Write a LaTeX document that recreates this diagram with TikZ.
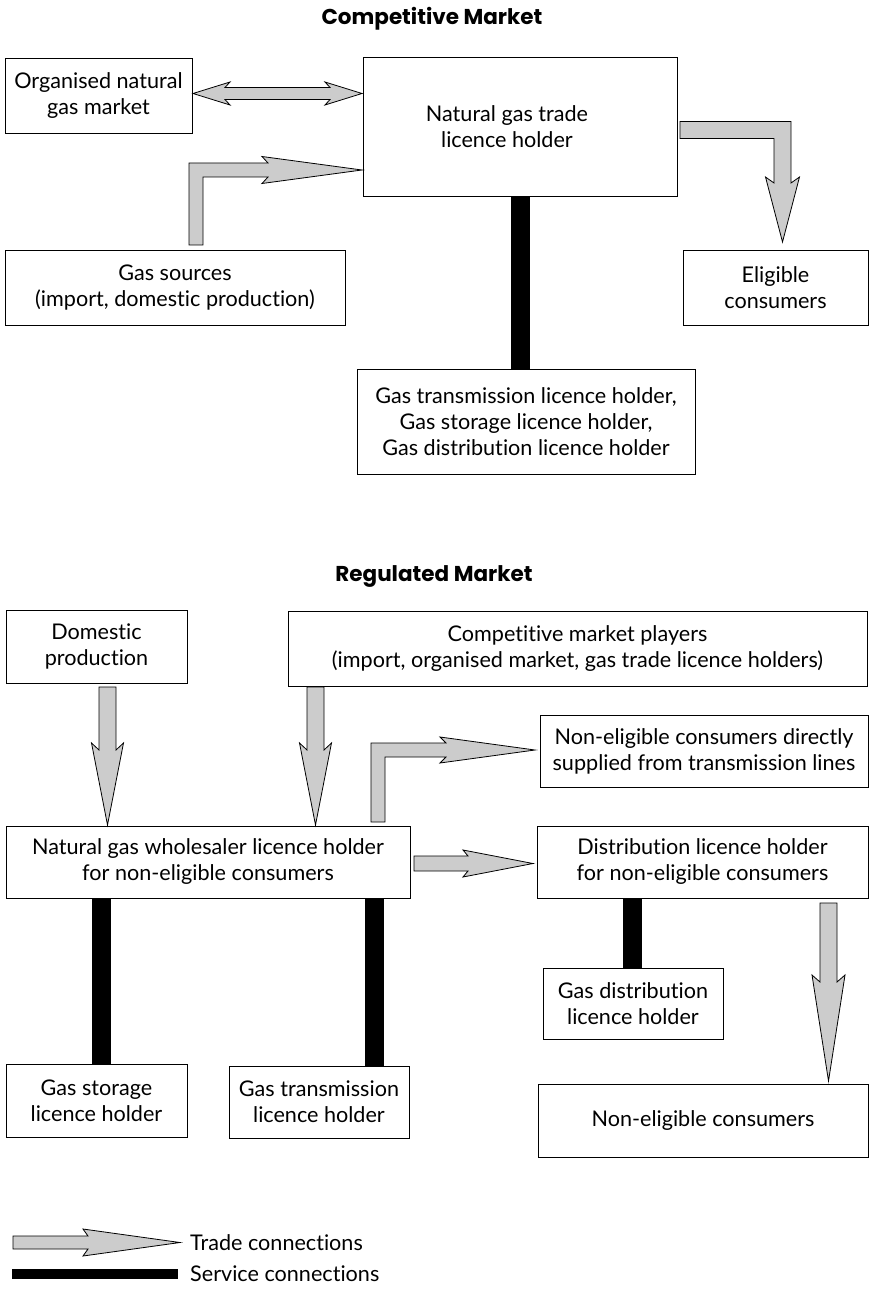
\documentclass[tikz,border=0pt]{standalone}
\usepackage{fontspec}
\setmainfont{Lato}[Ligatures={NoCommon}]
\newfontfamily\titlefont{Poppins}
\usetikzlibrary{calc}
\definecolor{arrowgray}{RGB}{204,204,204}
\tikzset{
  box/.style={draw, line width=0.9pt, inner sep=0pt, align=center,
    font=\fontsize{21.6}{26}\selectfont},
  trade/.style={fill=arrowgray, draw=black, line width=0.8pt, line join=miter},
  service/.style={draw=black, line width=19pt},
  title/.style={font=\titlefont\bfseries\fontsize{21.5}{25}\selectfont},
  legendtext/.style={anchor=west, inner sep=0pt, font=\fontsize{21.6}{24}\selectfont}
}
% right-pointing block arrow: x0 x1 y s h L b
\newcommand\rblock[7]{%
  \filldraw[trade] (#1,#3-#4) -- (#2-#6,#3-#4) -- (#2-#6-#7,#3-#5) -- (#2,#3)
    -- (#2-#6-#7,#3+#5) -- (#2-#6,#3+#4) -- (#1,#3+#4) -- cycle;}
% down-pointing block arrow: x y0 y1 s h L b
\newcommand\dblock[7]{%
  \filldraw[trade] (#1-#4,#2) -- (#1-#4,#3-#6) -- (#1-#5,#3-#6-#7) -- (#1,#3)
    -- (#1+#5,#3-#6-#7) -- (#1+#4,#3-#6) -- (#1+#4,#2) -- cycle;}
% up-then-right block arrow: x y0 yc tip s h L b
\newcommand\urblock[8]{%
  \filldraw[trade] (#1-#5,#2) -- (#1-#5,#3-#5) -- (#4-#7,#3-#5) -- (#4-#7-#8,#3-#6)
    -- (#4,#3) -- (#4-#7-#8,#3+#6) -- (#4-#7,#3+#5) -- (#1+#5,#3+#5) -- (#1+#5,#2) -- cycle;}
% right-then-down block arrow: x0 yc xc tip s h L b
\newcommand\rdblock[8]{%
  \filldraw[trade] (#1,#2-#5) -- (#3+#5,#2-#5) -- (#3+#5,#4-#7) -- (#3+#6,#4-#7-#8)
    -- (#3,#4) -- (#3-#6,#4-#7-#8) -- (#3-#5,#4-#7) -- (#3-#5,#2+#5) -- (#1,#2+#5) -- cycle;}
\begin{document}
\begin{tikzpicture}[x=1pt,y=-1pt]
\useasboundingbox (0,0) rectangle (870,1289);

% ---------------- Competitive market ----------------
\node[title] (t1) at (432,19) {Competitive Market};

\node[box, minimum width=187pt, minimum height=75pt] (org) at (98.5,95.5)
  {Organised natural\\gas market};
\node[box, minimum width=314pt, minimum height=139pt] (trade) at (520,126.5)
  {Natural gas trade\hspace*{26pt}\\licence holder\hspace*{26pt}};
\node[box, minimum width=340pt, minimum height=75pt] (sources) at (175,287.5)
  {Gas sources\\(import, domestic production)};
\node[box, minimum width=185pt, minimum height=75pt] (elig) at (775.5,287.5)
  {Eligible\\consumers};
\node[box, minimum width=338pt, minimum height=105pt] (trans1) at (526,421.5)
  {Gas transmission licence holder,\\Gas storage licence holder,\\Gas distribution licence holder};

% double arrow org <-> trade
\filldraw[trade] (193,93.5) -- (230,82) -- (225,87.5) -- (330,87.5) -- (325,82) -- (362,93.5)
  -- (325,105) -- (330,99.5) -- (225,99.5) -- (230,105) -- cycle;
% sources -> trade
\urblock{196}{245}{170}{362}{7}{13.5}{94}{6}
% trade -> eligible
\rdblock{680}{130}{782.5}{242}{8.5}{17}{59}{6}
% service
\draw[service] (trade.south) -- (trade.south |- trans1.north);

% ---------------- Regulated market ----------------
\node[title] (t2) at (434,576) {Regulated Market};

\node[box, minimum width=181pt, minimum height=73pt] (dom) at (96.5,646.5)
  {Domestic\\production};
\node[box, minimum width=579pt, minimum height=75pt] (comp) at (577.5,648.5)
  {Competitive market players\\(import, organised market, gas trade licence holders)};
\node[box, minimum width=328pt, minimum height=72pt] (nedir) at (704,751)
  {Non-eligible consumers directly\\supplied from transmission lines};
\node[box, minimum width=404pt, minimum height=72pt] (whole) at (208,862)
  {Natural gas wholesaler licence holder\\for non-eligible consumers};
\node[box, minimum width=331pt, minimum height=72pt] (dist) at (702.5,862)
  {Distribution licence holder\\for non-eligible consumers};
\node[box, minimum width=180pt, minimum height=71pt] (gdist) at (633,1003.5)
  {Gas distribution\\licence holder};
\node[box, minimum width=181pt, minimum height=73pt] (stor) at (96.5,1100.5)
  {Gas storage\\licence holder};
\node[box, minimum width=180pt, minimum height=72pt] (trans2) at (319,1102)
  {Gas transmission\\licence holder};
\node[box, minimum width=330pt, minimum height=73pt] (necons) at (703,1120.5)
  {Non-eligible consumers};

% trade arrows
\dblock{107.5}{687}{825}{8.5}{16}{75}{7}
\dblock{315.5}{687}{825}{8.5}{16}{75}{7}
\urblock{378}{822}{750}{535}{7}{13}{89}{6}
\rblock{414}{533}{863.5}{7.5}{13.5}{65}{5}
\dblock{828.5}{903}{1081}{8.5}{16.5}{99}{7}

% service connections
\draw[service] ([xshift=-106.5pt]whole.south) -- ([xshift=-106.5pt]whole.south |- stor.north);
\draw[service] ([xshift=166.5pt]whole.south) -- ([xshift=166.5pt]whole.south |- trans2.north);
\draw[service] ([xshift=-70pt]dist.south) -- ([xshift=-70pt]dist.south |- gdist.north);

% ---------------- Legend ----------------
\rblock{13}{180}{1242.5}{6.5}{13.5}{92}{5}
\node[legendtext] (lt) at (190,1242.5) {Trade connections};
\fill[black] (12,1269) rectangle (178,1279);
\node[legendtext] (ls) at (190,1274) {Service connections};
\end{tikzpicture}
\end{document}
